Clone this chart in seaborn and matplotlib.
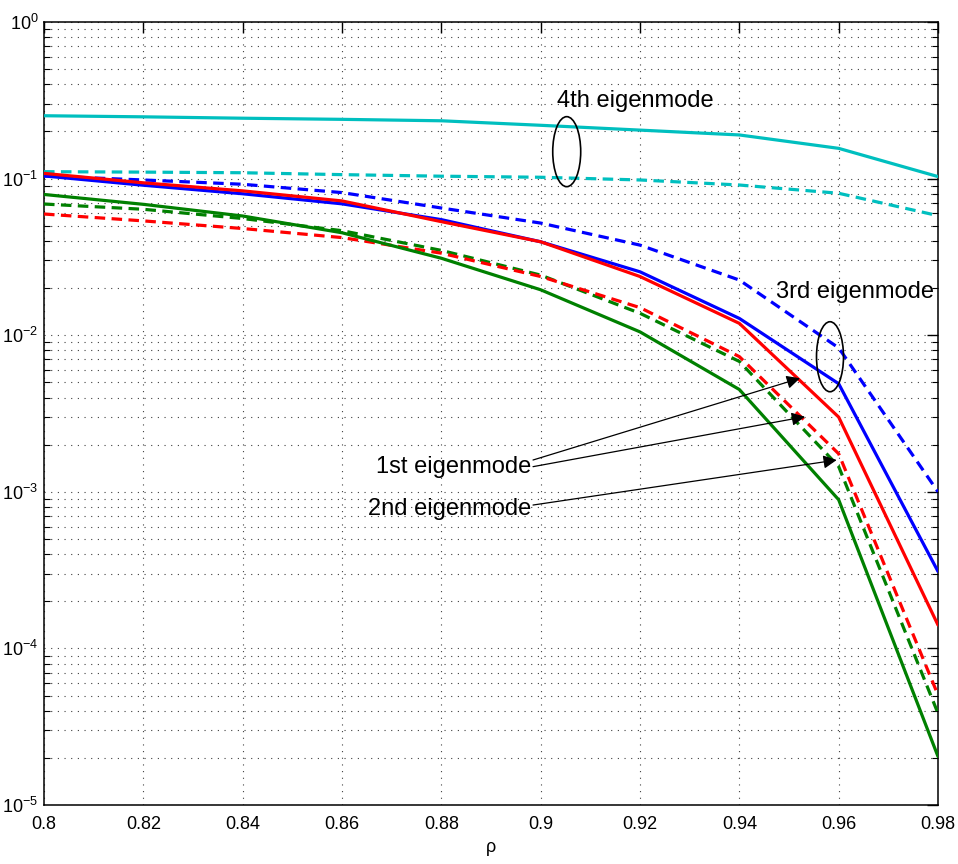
import numpy as np
import pandas as pd
import matplotlib
matplotlib.use("Agg")
import matplotlib.pyplot as plt
from matplotlib import font_manager
from matplotlib.patches import Ellipse
import seaborn as sns

# ---------------- data ----------------
rho = [0.80, 0.82, 0.84, 0.86, 0.88, 0.90, 0.92, 0.94, 0.96, 0.98]

mode4_solid = [0.252, 0.248, 0.243, 0.239, 0.234, 0.219, 0.204, 0.190, 0.156, 0.103]
mode4_dash = [0.1107, 0.110, 0.109, 0.106, 0.1036, 0.102, 0.098, 0.091, 0.0806, 0.058]
mode3_solid = [0.104, 0.0907, 0.080, 0.069, 0.0547, 0.0395, 0.0254, 0.0128, 0.0049, 0.00031]
mode3_dash = [0.104, 0.098, 0.092, 0.0814, 0.0649, 0.052, 0.0376, 0.0225, 0.0083, 0.0010]
mode1_solid = [0.108, 0.094, 0.0835, 0.072, 0.0531, 0.0395, 0.0237, 0.0119, 0.0030, 0.000141]
mode1_dash = [0.0594, 0.0537, 0.048, 0.042, 0.0334, 0.0237, 0.0150, 0.0073, 0.00175, 0.0000504]
mode2_solid = [0.0792, 0.0685, 0.0577, 0.0451, 0.0310, 0.0195, 0.0105, 0.0045, 0.00089, 0.0000204]
mode2_dash = [0.0688, 0.0637, 0.0556, 0.0465, 0.0348, 0.0242, 0.0138, 0.0068, 0.00145, 0.0000385]

xticks = [0.80, 0.82, 0.84, 0.86, 0.88, 0.90, 0.92, 0.94, 0.96, 0.98]
xtick_labels = ["0.8", "0.82", "0.84", "0.86", "0.88", "0.9", "0.92", "0.94", "0.96", "0.98"]

# ---------------- style ----------------
sns.set_style("white")
names = {f.name for f in font_manager.fontManager.ttflist}
fam = "Liberation Sans Narrow" if "Liberation Sans Narrow" in names else "Liberation Sans"
plt.rcParams["font.family"] = [fam, "DejaVu Sans"]
plt.rcParams["mathtext.default"] = "regular"
plt.rcParams["mathtext.fontset"] = "custom"
plt.rcParams["mathtext.rm"] = fam
plt.rcParams["text.color"] = "black"
plt.rcParams["axes.labelcolor"] = "black"
plt.rcParams["xtick.color"] = "black"
plt.rcParams["ytick.color"] = "black"

fig = plt.figure(figsize=(9.58, 8.64), dpi=100)
ax = fig.add_axes([44 / 958, 1 - 805 / 864, 894 / 958, 783 / 864])

cyan = (0.0, 0.75, 0.75)
blue = (0.0, 0.0, 1.0)
red = (1.0, 0.0, 0.0)
green = (0.0, 0.5, 0.0)
dash = (0, (3.3, 2.0))
lw = 2.3

series = [
    (mode4_solid, cyan, "-"),
    (mode4_dash, cyan, dash),
    (mode3_solid, blue, "-"),
    (mode3_dash, blue, dash),
    (mode2_dash, green, dash),
    (mode1_dash, red, dash),
    (mode2_solid, green, "-"),
    (mode1_solid, red, "-"),
]
for vals, col, ls in series:
    sns.lineplot(x=rho, y=vals, color=col, linestyle=ls, linewidth=lw, ax=ax, zorder=3)

ax.set_yscale("log")
ax.set_xlim(0.8, 0.98)
ax.set_ylim(1e-5, 1e0)
ax.set_xticks(xticks)
ax.set_xticklabels(xtick_labels)
ax.yaxis.set_major_locator(matplotlib.ticker.LogLocator(base=10, numticks=10))
ax.yaxis.set_minor_locator(matplotlib.ticker.LogLocator(base=10, subs=np.arange(2, 10), numticks=20))
ax.yaxis.set_minor_formatter(matplotlib.ticker.NullFormatter())

ax.grid(True, which="major", axis="both", color="0.25", linestyle=(0, (1, 5)), linewidth=0.8, zorder=0)
ax.grid(True, which="minor", axis="y", color="0.25", linestyle=(0, (1, 5)), linewidth=0.8, zorder=0)

ax.tick_params(axis="both", which="major", direction="in", length=8, width=1.0,
               top=True, right=True, labelsize=13, color="black", labelcolor="black")
ax.tick_params(axis="x", which="major", pad=8)
ax.tick_params(axis="y", which="major", pad=4)
ax.tick_params(axis="y", which="minor", direction="in", length=4, width=0.8, left=True, right=True)
for s in ax.spines.values():
    s.set_color("black")
    s.set_linewidth(1.1)
    s.set_visible(True)

ax.set_xlabel("ρ", fontsize=13, labelpad=4, family=[fam, "DejaVu Sans"], color="black")
ax.set_ylabel("")

# ---------------- annotations ----------------
tfs = 17
ax.text(0.661, 0.8918, "4th eigenmode", transform=ax.transAxes, ha="center", va="baseline", fontsize=tfs, color="black")
ax.text(0.9072, 0.6471, "3rd eigenmode", transform=ax.transAxes, ha="center", va="baseline", fontsize=tfs, color="black")
ax.text(0.5447, 0.4236, "1st eigenmode", transform=ax.transAxes, ha="right", va="baseline", fontsize=tfs, color="black")
ax.text(0.5447, 0.3704, "2nd eigenmode", transform=ax.transAxes, ha="right", va="baseline", fontsize=tfs, color="black")

ax.add_patch(Ellipse((0.5847, 0.8344), 0.0313, 0.0894, transform=ax.transAxes,
                     fill=False, edgecolor="black", linewidth=1.2, zorder=5))
ax.add_patch(Ellipse((0.8792, 0.5725), 0.0302, 0.0894, transform=ax.transAxes,
                     fill=False, edgecolor="black", linewidth=1.2, zorder=5))

arrows = [((0.5470, 0.4406), (0.8456, 0.5450)),
          ((0.5470, 0.4321), (0.8512, 0.4959)),
          ((0.5470, 0.3831), (0.8867, 0.4406))]
for start, tip in arrows:
    ax.annotate("", xy=tip, xytext=start, xycoords="axes fraction", textcoords="axes fraction",
                arrowprops=dict(arrowstyle="-|>", color="black", lw=0.9, mutation_scale=20,
                                shrinkA=0, shrinkB=0), zorder=6)

fig.savefig("out.png", dpi=100)
